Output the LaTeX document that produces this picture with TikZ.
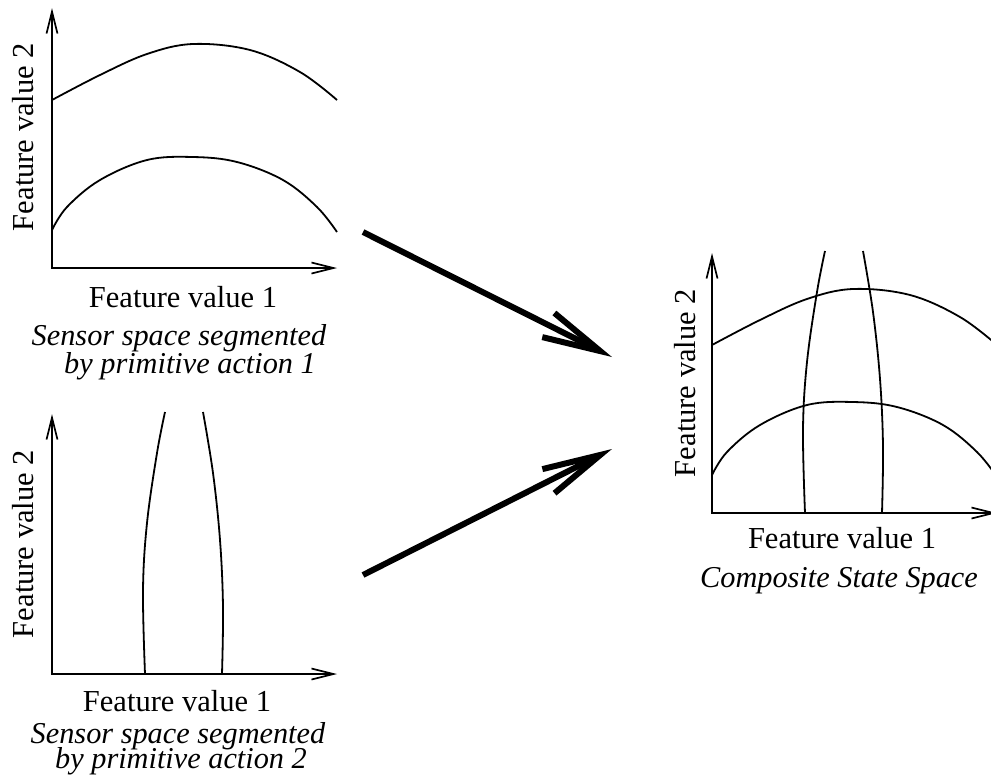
\documentclass[tikz,border=0pt]{standalone}
\usepackage{fontspec}
\setmainfont{Liberation Serif}
\usetikzlibrary{arrows.meta}

% thin axes with open barbs, region boundaries, text and the two thick arrows
\tikzset{
  axes/.style={line width=1.7pt,
    arrows={Straight Barb[length=22pt,width=11pt]-Straight Barb[length=22pt,width=11pt]}},
  boundary/.style={line width=1.8pt},
  lbl/.style={anchor=base, inner sep=0pt, font=\fontsize{30.5pt}{31pt}\selectfont},
  ylbl/.style={lbl, rotate=90},
  capt/.style={lbl, font=\fontsize{30.3pt}{31pt}\selectfont\itshape},
  bigarrow/.style={line width=6pt, -{Straight Barb[length=58pt,width=27pt]}},
}

% boundaries made by primitive action 1 (local frame, y up)
\newcommand\actionOneBounds{%
  \draw[boundary] plot[smooth, tension=0.6] coordinates
    {(0,168) (48,193) (95,214) (141,224) (198,218) (248,196) (285,168)};
  \draw[boundary] plot[smooth, tension=0.6] coordinates
    {(0,38) (15,61) (48,88) (95,108) (141,111) (185,106) (231,88) (265,61) (285,36)};
}
% boundaries made by primitive action 2 (local frame, y up)
\newcommand\actionTwoBounds{%
  \draw[boundary] plot[smooth, tension=0.6] coordinates
    {(113,262) (105,221) (95,151) (91,84) (93,0)};
  \draw[boundary] plot[smooth, tension=0.6] coordinates
    {(151,262) (161,201) (168,134) (171,67) (170,0)};
}
\newcommand\featureAxes{%
  \draw[axes] (0,260) -- (0,0) -- (285,0);
}

\begin{document}
\begin{tikzpicture}[x=1pt, y=-1pt]
  \useasboundingbox (0,0) rectangle (991,780);
  \clip (0,0) rectangle (991,780);

  % sensor space, action 1
  \begin{scope}[xshift=52pt, yshift=-268pt, y=1pt]
    \featureAxes
    \actionOneBounds
  \end{scope}
  \node[ylbl] (s1y) at (33,137) {Feature value 2};
  \node[lbl]  (s1x) at (183,307) {Feature value 1};
  \node[capt] (s1c) at (179,345) {Sensor space segmented};
  \node[capt] (s1d) at (190,373) {by primitive action 1};

  % sensor space, action 2
  \begin{scope}[xshift=52pt, yshift=-674pt, y=1pt]
    \featureAxes
    \actionTwoBounds
  \end{scope}
  \node[ylbl] (s2y) at (33,544) {Feature value 2};
  \node[lbl]  (s2x) at (177,711) {Feature value 1};
  \node[capt] (s2c) at (178,743) {Sensor space segmented};
  \node[capt] (s2d) at (181,768) {by primitive action 2};

  % composite state space
  \begin{scope}[xshift=712pt, yshift=-513pt, y=1pt]
    \featureAxes
    \actionOneBounds
    \actionTwoBounds
  \end{scope}
  \node[ylbl] (cy) at (695,383) {Feature value 2};
  \node[lbl]  (cx) at (842,548) {Feature value 1};
  \node[capt] (cc) at (839,587) {Composite State Space};

  % combining arrows
  \coordinate (fromA) at (363,232);
  \coordinate (fromB) at (363,575);
  \coordinate (intoA) at (612,357);
  \coordinate (intoB) at (612,449);
  \draw[bigarrow] (fromA) -- (intoA);
  \draw[bigarrow] (fromB) -- (intoB);
\end{tikzpicture}
\end{document}
